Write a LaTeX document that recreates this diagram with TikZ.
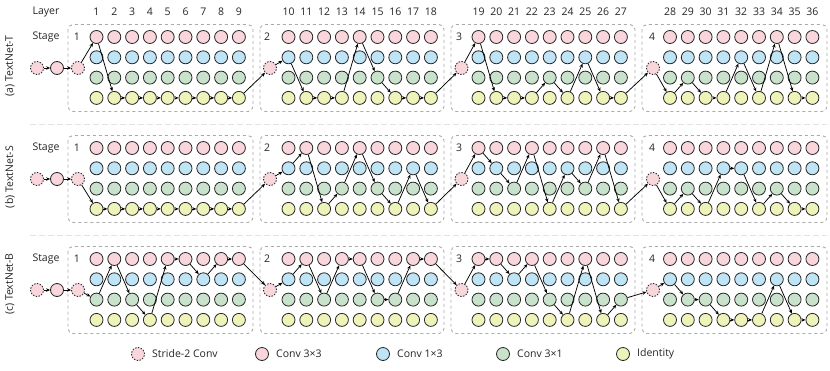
\documentclass[tikz,border=0pt]{standalone}
\usepackage{fontspec}
\setmainfont{Open Sans}
\usetikzlibrary{arrows.meta}
\definecolor{cpink}{HTML}{F9D6DB}
\definecolor{cblue}{HTML}{BEE4F5}
\definecolor{cgreen}{HTML}{C8E2CC}
\definecolor{cyellow}{HTML}{EEF3BA}
\definecolor{boxgray}{HTML}{AAAAAA}
\definecolor{sepgray}{HTML}{E2E2E2}
\def\seqa{{1,4,4,4,4,4,4,4,4, 2,4,4,4,1,3,4,4,4, 1,4,4,4,3,4,2,4,4, 4,3,4,4,2,4,1,4,4}}
\def\seqb{{4,4,4,4,4,4,4,4,4, 2,1,4,3,1,3,4,2,4, 1,2,3,1,4,2,3,1,4, 4,3,4,2,2,4,3,4,4}}
\def\seqc{{3,1,3,4,1,1,2,1,1, 2,1,3,1,1,3,3,1,1, 1,1,2,1,3,4,1,4,3, 2,3,3,4,4,4,2,4,4}}
\begin{document}
\begin{tikzpicture}[x=1pt,y=-1pt,
  cell/.style={circle, draw=black!85, line width=0.8pt, minimum size=13pt, inner sep=0pt},
  stridec/.style={cell, fill=cpink, dash pattern=on 1.6pt off 1.3pt},
  link/.style={-{Stealth[length=4pt,width=3.4pt]}, line width=0.75pt, black},
  stagebox/.style={draw=boxgray, dashed, line width=0.9pt, rounded corners=5pt},
  sep/.style={draw=sepgray, dash pattern=on 6pt off 3pt, line width=1.8pt},
  lab/.style={font=\fontsize{10.5}{12}\selectfont, inner sep=0pt, text=black!85},
  netlab/.style={font=\fontsize{10.5}{12}\selectfont, inner sep=0pt, rotate=90, text=black!85}]
\fill[white] (0,0) rectangle (830,370);
\useasboundingbox (0,0) rectangle (830,370);
% header
\node[lab] (layerlab) at (46,12) {Layer};
\foreach \s/\xo in {1/96.5, 2/288.5, 3/478.5, 4/670} {
  \foreach \i in {1,...,9} {
    \pgfmathtruncatemacro\L{(\s-1)*9+\i}
    \node[lab] (num-\L) at ({\xo+(\i-1)*17.8}, 12) {\L};
  }
}
% separators
\draw[sep] (30,124.5) -- (827,124.5);
\draw[sep] (30,235.5) -- (827,235.5);
% networks
\foreach \net/\base/\nl/\ly in {a/37/{(a) TextNet-T}/66, b/148/{(b) TextNet-S}/177, c/259/{(c) TextNet-B}/284} {
  \node[netlab] (\net-name) at (10,\ly) {\nl};
  \node[lab] (\net-stage) at (46,\base) {Stage};
  \foreach \s/\bx/\ex/\nx in {1/68/253/77, 2/260/444/267, 3/451/635/459, 4/642/827/652} {
    \draw[stagebox] (\bx,\base-12.5) rectangle (\ex,\base+74.5);
    \node[lab] (\net-snum-\s) at (\nx,\base) {\s};
  }
  \foreach \s/\xo in {1/96.5, 2/288.5, 3/478.5, 4/670} {
    \foreach \i in {1,...,9} {
      \pgfmathtruncatemacro\L{(\s-1)*9+\i}
      \foreach \k/\col in {1/cpink,2/cblue,3/cgreen,4/cyellow} {
        \node[cell, fill=\col] (\net-\L-\k) at ({\xo+(\i-1)*17.8}, {\base+(\k-1)*20.3}) {};
      }
    }
  }
  \node[stridec] (\net-in1) at (37,\base+31) {};
  \node[cell, fill=cpink] (\net-in2) at (57,\base+31) {};
  \node[stridec] (\net-st1) at (78,\base+31) {};
  \node[stridec] (\net-st2) at (270,\base+31) {};
  \node[stridec] (\net-st3) at (461.5,\base+31) {};
  \node[stridec] (\net-st4) at (653,\base+31) {};
  \draw[link] (\net-in1) -- (\net-in2);
  \draw[link] (\net-in2) -- (\net-st1);
}
% paths
\foreach \net/\arr in {a/\seqa, b/\seqb, c/\seqc} {
  \foreach \s in {1,2,3,4} {
    \pgfmathtruncatemacro\first{(\s-1)*9+1}
    \pgfmathtruncatemacro\rf{\arr[\first-1]}
    \draw[link] (\net-st\s) -- (\net-\first-\rf);
    \foreach \i in {2,...,9} {
      \pgfmathtruncatemacro\L{(\s-1)*9+\i}
      \pgfmathtruncatemacro\P{\L-1}
      \pgfmathtruncatemacro\rl{\arr[\L-1]}
      \pgfmathtruncatemacro\rp{\arr[\P-1]}
      \draw[link] (\net-\P-\rp) -- (\net-\L-\rl);
    }
    \ifnum\s<4
      \pgfmathtruncatemacro\last{\s*9}
      \pgfmathtruncatemacro\rlast{\arr[\last-1]}
      \pgfmathtruncatemacro\ns{\s+1}
      \draw[link] (\net-\last-\rlast) -- (\net-st\ns);
    \fi
  }
}
% legend
\node[stridec] (lg1) at (138,354) {};
\node[lab, anchor=west] (lt1) at (152,354) {Stride-2 Conv};
\node[cell, fill=cpink] (lg2) at (262,354) {};
\node[lab, anchor=west] (lt2) at (276,354) {Conv 3×3};
\node[cell, fill=cblue] (lg3) at (383,354) {};
\node[lab, anchor=west] (lt3) at (397,354) {Conv 1×3};
\node[cell, fill=cgreen] (lg4) at (503,354) {};
\node[lab, anchor=west] (lt4) at (517,354) {Conv 3×1};
\node[cell, fill=cyellow] (lg5) at (623,354) {};
\node[lab, anchor=west] (lt5) at (637,354) {Identity};
\end{tikzpicture}
\end{document}
